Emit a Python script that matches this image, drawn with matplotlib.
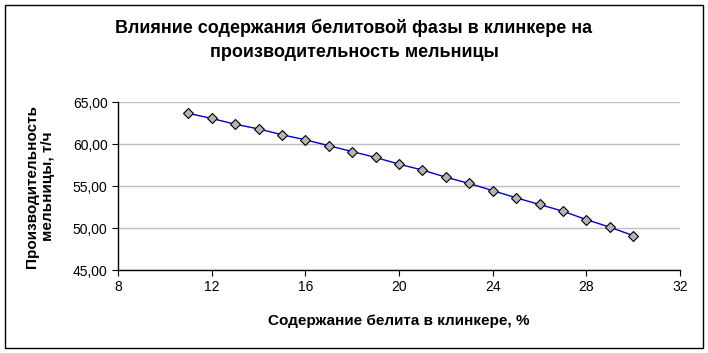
import matplotlib
matplotlib.use("Agg")
import matplotlib.pyplot as plt
from matplotlib.patches import Rectangle
from matplotlib.ticker import FuncFormatter

plt.rcParams["font.family"] = ["Liberation Sans", "DejaVu Sans"]

# === Data ===
belite = [11, 12, 13, 14, 15, 16, 17, 18, 19, 20, 21, 22, 23, 24, 25, 26, 27, 28, 29, 30]
productivity = [63.65, 63.05, 62.35, 61.8, 61.1, 60.5, 59.8, 59.1, 58.4, 57.6,
                56.9, 56.05, 55.3, 54.45, 53.6, 52.8, 52.0, 51.0, 50.1, 49.1]
x_ticks = [8, 12, 16, 20, 24, 28, 32]
y_ticks = [45, 50, 55, 60, 65]

# === Plot ===
fig = plt.figure(figsize=(7.08, 3.53), dpi=100)
ax = fig.add_axes([118 / 708, 1 - 270 / 353, 562 / 708, 168 / 353])

ax.plot(belite, productivity, color="#0000cc", linewidth=1,
        marker="D", markersize=5, markerfacecolor="#b4b4b4",
        markeredgecolor="black", markeredgewidth=0.8)

ax.set_xlim(8, 32)
ax.set_ylim(45, 65)
ax.set_xticks(x_ticks)
ax.set_yticks(y_ticks)
ax.yaxis.set_major_formatter(FuncFormatter(lambda v, p: f"{v:.2f}".replace(".", ",")))
ax.grid(axis="y", color="#c0c0c0", linewidth=1)
ax.set_axisbelow(True)
for side in ["top", "right"]:
    ax.spines[side].set_visible(False)
for side in ["left", "bottom"]:
    ax.spines[side].set_linewidth(1)
ax.tick_params(labelsize=10, length=4, direction="out")

ax.set_xlabel("Содержание белита в клинкере, %", fontsize=11, fontweight="bold", labelpad=14)
ax.set_ylabel("Производительность\nмельницы, т/ч", fontsize=11, fontweight="bold", labelpad=13)

fig.text(0.5, 1 - 40 / 353, "Влияние содержания белитовой фазы в клинкере на\nпроизводительность мельницы",
         ha="center", va="center", fontsize=13, fontweight="bold", linespacing=1.5)

# outer border
fig.patches.append(Rectangle((5 / 708, 5 / 353), 698 / 708, 343 / 353, transform=fig.transFigure,
                             fill=False, edgecolor="black", linewidth=1))

fig.savefig("out.png", dpi=100)
